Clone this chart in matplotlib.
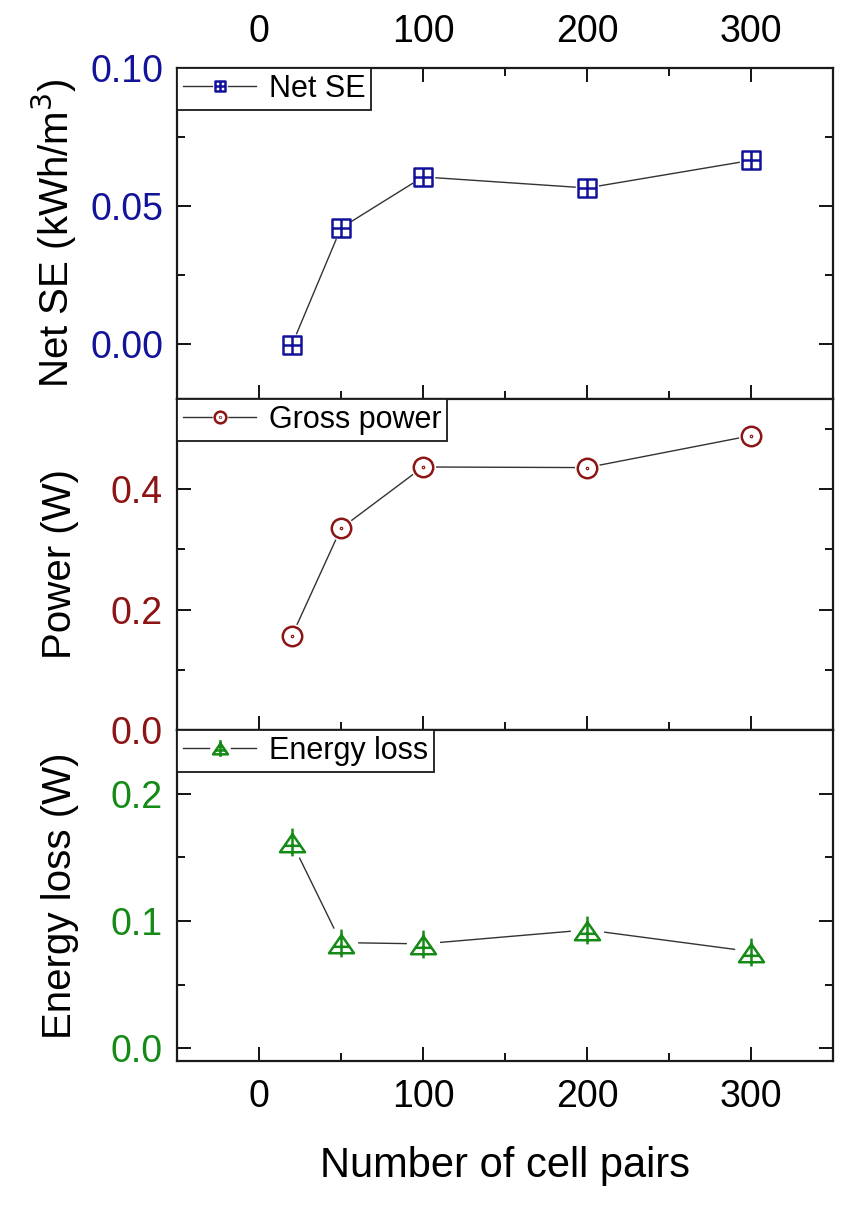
import numpy as np
import matplotlib
matplotlib.use("Agg")
import matplotlib.pyplot as plt
from matplotlib.path import Path
from matplotlib.ticker import MultipleLocator, FormatStrFormatter

plt.rcParams['font.family'] = ['Liberation Sans', 'DejaVu Sans']

# data
cell_pairs = [20, 50, 100, 200, 300]
net_se = [-0.0005, 0.042, 0.0605, 0.0565, 0.0665]
gross_power = [0.156, 0.335, 0.437, 0.436, 0.489]
energy_loss = [0.162, 0.083, 0.082, 0.093, 0.076]

x_ticks = [0, 100, 200, 300]

BLUE = '#12129a'
RED = '#8c1414'
GREEN = '#168a16'
LINE = '#333333'


def square_cross():
    verts = [(-0.5, -0.5), (0.5, -0.5), (0.5, 0.5), (-0.5, 0.5), (-0.5, -0.5),
             (0, -0.5), (0, 0.5), (-0.5, 0), (0.5, 0)]
    codes = [Path.MOVETO, Path.LINETO, Path.LINETO, Path.LINETO, Path.CLOSEPOLY,
             Path.MOVETO, Path.LINETO, Path.MOVETO, Path.LINETO]
    return Path(verts, codes)


def circle_dot():
    outer = Path.unit_circle()
    inner = Path.circle((0, 0), 0.06)
    return Path.make_compound_path(outer, inner)


def triangle_plus():
    # open triangle with a plus through it
    verts = [(0, 0.3), (0.45, -0.35), (-0.45, -0.35), (0, 0.3),
             (0, 0.5), (0, -0.5), (-0.3, -0.12), (0.3, -0.12)]
    codes = [Path.MOVETO, Path.LINETO, Path.LINETO, Path.CLOSEPOLY,
             Path.MOVETO, Path.LINETO, Path.MOVETO, Path.LINETO]
    return Path(verts, codes)


fig = plt.figure(figsize=(8.62, 12.05), dpi=100)
left, width, height = 0.2053, 0.761, 0.2747
bottoms = [0.6689, 0.3942, 0.1195]
axes = [fig.add_axes([left, b, width, height]) for b in bottoms]

series = [
    (net_se, square_cross(), 13, BLUE, 'Net SE', 'Net SE (kWh/m$^3$)', (-0.02, 0.10), 0.05, 0.025, '%.2f'),
    (gross_power, circle_dot(), 14, RED, 'Gross power', 'Power (W)', (0.0, 0.55), 0.2, 0.1, '%.1f'),
    (energy_loss, triangle_plus(), 20, GREEN, 'Energy loss', 'Energy loss (W)', (-0.01, 0.25), 0.1, 0.05, '%.1f'),
]

for i, (ax, (vals, mk, ms, col, name, ylab, ylim, major, minor, fmt)) in enumerate(zip(axes, series)):
    # connecting line, a white halo to leave a small gap, then the symbols
    line, = ax.plot(cell_pairs, vals, color=LINE, lw=1.0)
    gap, = ax.plot(cell_pairs, vals, ls='none', marker='o', markersize=ms + 3,
                   markerfacecolor='white', markeredgecolor='white')
    pts, = ax.plot(cell_pairs, vals, ls='none', marker=mk, markersize=ms,
                   markeredgecolor=col, markerfacecolor='white', markeredgewidth=1.8)
    ax.set_xlim(-50, 350)
    ax.set_ylim(*ylim)
    ax.xaxis.set_major_locator(MultipleLocator(100))
    ax.xaxis.set_minor_locator(MultipleLocator(50))
    ax.yaxis.set_major_locator(MultipleLocator(major))
    ax.yaxis.set_minor_locator(MultipleLocator(minor))
    ax.yaxis.set_major_formatter(FormatStrFormatter(fmt))
    ax.set_xticks(x_ticks)
    for s in ax.spines.values():
        s.set_linewidth(1.6)
        s.set_color('#1a1a1a')
    ax.tick_params(axis='both', which='major', direction='in', length=10, width=1.3,
                   labelsize=27, pad=10)
    ax.tick_params(axis='both', which='minor', direction='in', length=6, width=1.3)
    ax.tick_params(axis='y', right=True, labelcolor=col)
    ax.tick_params(axis='y', which='minor', right=True)
    ax.tick_params(axis='x', which='both', top=(i == 0), labeltop=(i == 0),
                   labelbottom=(i == 2))
    ax.tick_params(axis='x', which='major', pad=13)
    ax.set_ylabel(ylab, fontsize=29)
    ax.yaxis.set_label_coords(-0.15, 0.5)
    leg = ax.legend([(line, gap, pts)], [name], loc='upper left', borderaxespad=0,
                    fancybox=False, framealpha=1, edgecolor='#1a1a1a', fontsize=22,
                    handlelength=2.4, handletextpad=0.4, borderpad=0.2, markerscale=0.6)
    leg.get_frame().set_linewidth(1.3)

axes[2].set_xlabel('Number of cell pairs', fontsize=30, labelpad=22)

fig.savefig('out.png', dpi=100)
